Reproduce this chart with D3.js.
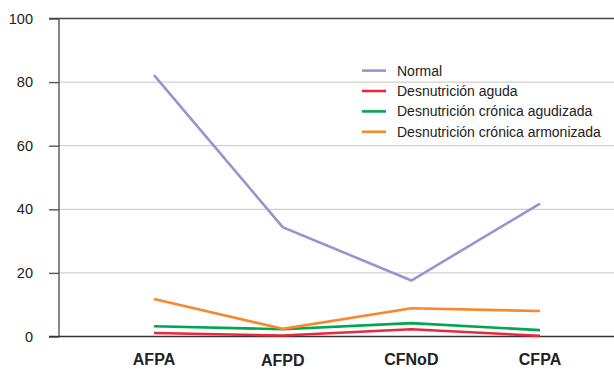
<!DOCTYPE html>
<html>
<head>
<meta charset="utf-8">
<script src="https://cdn.jsdelivr.net/npm/d3@7"></script>
<style>
  html, body { margin: 0; padding: 0; background: #fff; }
  svg { display: block; }
</style>
</head>
<body>
<svg id="chart" width="614" height="369"></svg>
<script>
// Grupos y porcentajes por estado nutricional
const categories = ["AFPA", "AFPD", "CFNoD", "CFPA"];
const seriesNames = [
  "Normal",
  "Desnutrición aguda",
  "Desnutrición crónica agudizada",
  "Desnutrición crónica armonizada"
];
const normal = [82.2, 34.4, 17.6, 41.8];
const agudaValues = [1.1, 0.3, 2.3, 0.2];
const agudizadaValues = [3.2, 2.3, 4.2, 2.0];
const armonizadaValues = [11.8, 2.4, 8.9, 8.0];
const yTicks = [0, 20, 40, 60, 80, 100];

const colors = ["#9b93cf", "#e8283c", "#00a650", "#f7892a"];
const series = [normal, agudaValues, agudizadaValues, armonizadaValues];

const svg = d3.select("#chart");
const plotLeft = 59, plotRight = 614, plotTop = 18.5, plotBottom = 336.5;

const x = d3.scalePoint().domain(categories).range([154, 540]);
const y = d3.scaleLinear().domain([0, 100]).range([plotBottom, plotTop]);

// Líneas de cuadrícula
svg.append("g")
  .selectAll("line")
  .data(yTicks.filter(t => t > 0 && t < 100))
  .join("line")
  .attr("x1", plotLeft).attr("x2", plotRight)
  .attr("y1", d => y(d)).attr("y2", d => y(d))
  .attr("stroke", "#cfcfcf")
  .attr("stroke-width", 1.3);

// Eje vertical
const yAxis = svg.append("g")
  .attr("transform", `translate(${plotLeft},0)`)
  .call(d3.axisLeft(y).tickValues(yTicks).tickSize(10).tickPadding(16));
yAxis.select(".domain").remove();
yAxis.selectAll(".tick line").attr("stroke", "#555").attr("stroke-width", 1.4);
yAxis.selectAll(".tick text")
  .attr("fill", "#222")
  .style("font-family", "'Liberation Sans', Arial, sans-serif")
  .style("font-size", "14.5px");

svg.append("line")
  .attr("x1", plotLeft).attr("x2", plotLeft)
  .attr("y1", plotTop).attr("y2", plotBottom)
  .attr("stroke", "#555").attr("stroke-width", 1.4);

// Borde superior y línea base
svg.append("line")
  .attr("x1", plotLeft - 10).attr("x2", plotRight)
  .attr("y1", y(100)).attr("y2", y(100))
  .attr("stroke", "#444").attr("stroke-width", 1.4);
svg.append("line")
  .attr("x1", plotLeft - 10).attr("x2", plotRight)
  .attr("y1", y(0)).attr("y2", y(0))
  .attr("stroke", "#333").attr("stroke-width", 1.4);

// Etiquetas de categoría
const labelDy = { AFPA: 0, AFPD: 1, CFNoD: 0.3, CFPA: 0.3 };
svg.append("g")
  .selectAll("text")
  .data(categories)
  .join("text")
  .attr("x", d => x(d))
  .attr("y", d => 364.6 + labelDy[d])
  .attr("text-anchor", "middle")
  .attr("fill", "#222")
  .style("font-family", "'Liberation Sans', Arial, sans-serif")
  .style("font-weight", "bold")
  .style("font-size", "16px")
  .text(d => d);

// Series
const line = d3.line()
  .x((d, i) => x(categories[i]))
  .y(d => y(d));

svg.append("g")
  .selectAll("path")
  .data(series)
  .join("path")
  .attr("d", d => line(d))
  .attr("fill", "none")
  .attr("stroke", (d, i) => colors[i])
  .attr("stroke-width", 2.6)
  .attr("stroke-linejoin", "miter");

// Leyenda
const legend = svg.append("g");
const rows = legend.selectAll("g")
  .data(seriesNames)
  .join("g")
  .attr("transform", (d, i) => `translate(0,${70.6 + i * 20.4})`);
rows.append("line")
  .attr("x1", 362).attr("x2", 386)
  .attr("y1", 0).attr("y2", 0)
  .attr("stroke", (d, i) => colors[i])
  .attr("stroke-width", 2.6);
rows.append("text")
  .attr("x", 397)
  .attr("y", 5)
  .attr("fill", "#222")
  .style("font-family", "'Liberation Sans', Arial, sans-serif")
  .style("font-size", "14px")
  .text(d => d);
</script>
</body>
</html>
